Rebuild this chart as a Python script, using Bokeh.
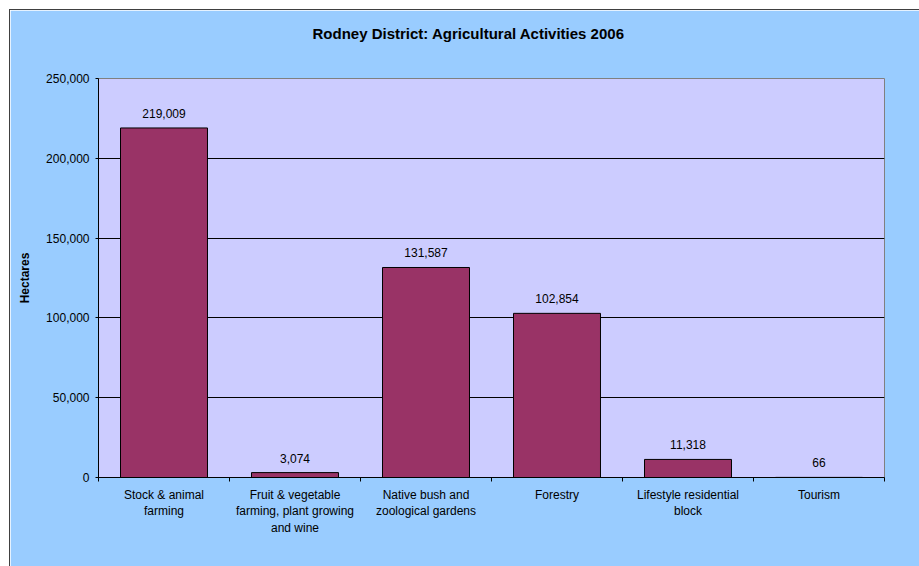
from bokeh.plotting import figure
from bokeh.models import Range1d, FixedTicker, NumeralTickFormatter, ColumnDataSource, Title
from bokeh.embed import file_html
from bokeh.resources import INLINE
from bokeh.core.properties import value

categories = ["Stock & animal\nfarming",
              "Fruit & vegetable\nfarming, plant growing\nand wine",
              "Native bush and\nzoological gardens",
              "Forestry",
              "Lifestyle residential\nblock",
              "Tourism"]
hectares = [219009, 3074, 131587, 102854, 11318, 66]
y_ticks = [0, 50000, 100000, 150000, 200000, 250000]
title_text = "Rodney District: Agricultural Activities 2006"
y_label = "Hectares"

FONT = "Liberation Sans"
n = len(categories)
xs = [i + 0.5 for i in range(n)]
src = ColumnDataSource(dict(x=xs, top=hectares, lbl=[f"{v:,}" for v in hectares]))

p = figure(width=910, height=557, output_backend="svg", toolbar_location=None,
           x_range=Range1d(0, n), y_range=Range1d(y_ticks[0], y_ticks[-1]),
           min_border_left=88, min_border_right=36, min_border_top=68, min_border_bottom=90)
p.title = None
p.margin = (9, 0, 0, 9)
p.styles = {"border-left": "1px solid #404040", "border-top": "1px solid #404040"}

p.background_fill_color = "#CCCCFF"
p.border_fill_color = "#99CCFF"
p.outline_line_color = "#808080"
p.outline_line_width = 1

# spacer between frame and the title, then the title itself
spacer = Title(text=" ", text_font=FONT, text_font_size="1px", standoff=29)
main_title = Title(text=title_text, align="left", offset=214, standoff=10,
                   text_font=FONT, text_font_size="15px", text_font_style="bold",
                   text_color="#000000")
p.add_layout(spacer, "above")
p.add_layout(main_title, "above")

p.vbar(x="x", top="top", width=0.664, bottom=0, source=src,
       fill_color="#993366", line_color="#000000", line_width=1)
p.text(x="x", y="top", text="lbl", source=src, y_offset=-10,
       text_align="center", text_baseline="bottom",
       text_font=value(FONT), text_font_size="12px", text_color="#000000")

# y axis
p.yaxis.ticker = FixedTicker(ticks=y_ticks)
p.yaxis.formatter = NumeralTickFormatter(format="0,0")
p.yaxis.major_tick_out = 3
p.yaxis.major_tick_in = 0
p.yaxis.minor_tick_out = 0
p.yaxis.minor_tick_in = 0
p.yaxis.major_label_standoff = 6
p.yaxis.major_label_text_font = FONT
p.yaxis.major_label_text_font_size = "12px"
p.yaxis.major_label_text_color = "#000000"
p.yaxis.axis_line_color = "#000000"
p.yaxis.axis_label = y_label
p.yaxis.axis_label_text_font = FONT
p.yaxis.axis_label_text_font_size = "12px"
p.yaxis.axis_label_text_font_style = "bold"
p.yaxis.axis_label_text_color = "#000000"
p.yaxis.axis_label_standoff = 11

# x axis: labels at category centres, ticks at boundaries
p.xaxis.ticker = FixedTicker(ticks=xs, minor_ticks=list(range(n + 1)))
p.xaxis.major_label_overrides = {x: c for x, c in zip(xs, categories)}
p.xaxis.major_tick_out = 0
p.xaxis.major_tick_in = 0
p.xaxis.minor_tick_out = 4
p.xaxis.minor_tick_in = 0
p.xaxis.major_label_standoff = 6
p.xaxis.major_label_text_font = FONT
p.xaxis.major_label_text_font_size = "12px"
p.xaxis.major_label_text_color = "#000000"
p.xaxis.axis_line_color = "#000000"

p.xgrid.visible = False
p.ygrid.ticker = FixedTicker(ticks=y_ticks[1:-1])
p.ygrid.grid_line_color = "#000000"
p.ygrid.grid_line_width = 1

open("out.html", "w").write(file_html(p, INLINE))
